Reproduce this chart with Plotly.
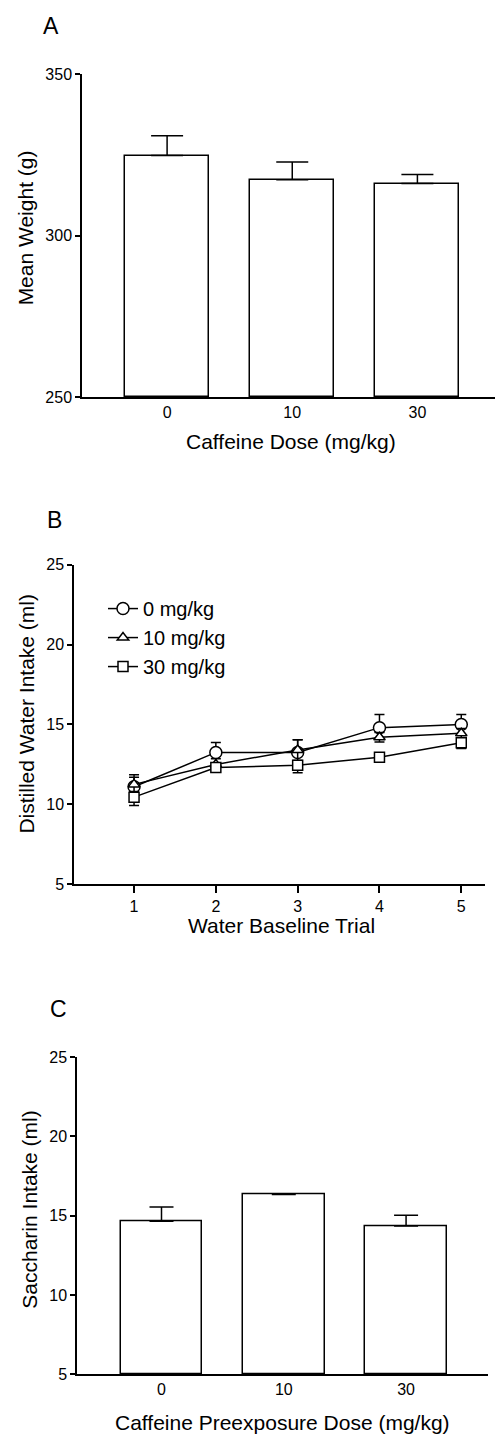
import plotly.graph_objects as go

W, H = 498, 1443
FONT = "Liberation Sans, Arial, Helvetica, sans-serif"

# ---- Panel A data ----
doses_a = ["0", "10", "30"]
weight_mean = [324.8, 317.3, 316.1]
weight_sem = [6.1, 5.5, 2.8]

# ---- Panel B data ----
trials = [1, 2, 3, 4, 5]
water_0 = [11.1, 13.25, 13.25, 14.8, 15.0]
water_0_err = [0.75, 0.62, 0.8, 0.82, 0.62]
water_10 = [11.25, 12.5, 13.4, 14.2, 14.45]
water_10_err = [0.45, 0.35, 0.65, 0.3, 0.3]
water_30 = [10.45, 12.3, 12.45, 12.95, 13.85]
water_30_err = [0.52, 0.25, 0.47, 0.25, 0.35]
series_names = ["0 mg/kg", "10 mg/kg", "30 mg/kg"]

# ---- Panel C data ----
doses_c = ["0", "10", "30"]
sacch_mean = [14.66, 16.34, 14.35]
sacch_sem = [0.9, 0.05, 0.68]


def xd(p0, p1):
    return [p0 / W, p1 / W]


def yd(top, bottom):
    return [1 - bottom / H, 1 - top / H]


def px(x):
    return x / W


def py(y):
    return 1 - y / H


fig = go.Figure()

# Panel A bars
fig.add_trace(go.Bar(
    x=doses_a, y=[m - 250 for m in weight_mean], base=250,
    xaxis="x", yaxis="y", width=0.672,
    marker=dict(color="white", line=dict(color="black", width=1.5)),
    error_y=dict(type="data", symmetric=False, array=weight_sem,
                 arrayminus=[0] * len(weight_sem), color="black",
                 thickness=1.5, width=16),
    showlegend=False,
))

# Panel B lines
symbols = ["circle", "triangle-up", "square"]
sizes = [12, 10, 10]
b_series = [water_0, water_10, water_30]
b_errs = [
    dict(array=water_0_err, arrayminus=[0] * 5),
    dict(array=water_10_err, arrayminus=water_10_err),
    dict(array=[0] * 5, arrayminus=water_30_err),
]
for name, ys, sym, sz, e in zip(series_names, b_series, symbols, sizes, b_errs):
    fig.add_trace(go.Scatter(
        x=trials, y=ys, name=name, mode="lines+markers",
        xaxis="x2", yaxis="y2",
        line=dict(color="black", width=1.5),
        marker=dict(symbol=sym, size=sz, color="white",
                    line=dict(color="black", width=1.5)),
        error_y=dict(type="data", symmetric=False, color="black",
                     thickness=1.5, width=5, **e),
    ))

# Panel C bars
fig.add_trace(go.Bar(
    x=doses_c, y=[m - 5 for m in sacch_mean], base=5,
    xaxis="x3", yaxis="y3", width=0.668,
    marker=dict(color="white", line=dict(color="black", width=1.5)),
    error_y=dict(type="data", symmetric=False, array=sacch_sem,
                 arrayminus=[0] * len(sacch_sem), color="black",
                 thickness=1.5, width=12),
    showlegend=False,
))

axis_common = dict(showgrid=False, zeroline=False, showline=True,
                   linecolor="black", linewidth=1.5,
                   tickfont=dict(family=FONT, size=16, color="black"))

fig.update_layout(
    width=W, height=H,
    margin=dict(l=0, r=0, t=0, b=0),
    paper_bgcolor="white", plot_bgcolor="white",
    font=dict(family=FONT, color="black"),
    bargap=0,
    xaxis=dict(domain=xd(82, 495), anchor="y", type="category",
               range=[-0.68, 2.62], ticks="", **axis_common),
    yaxis=dict(domain=yd(66.7, 394), anchor="x", range=[250, 350],
               tickvals=[250, 300, 350], ticks="outside", ticklen=5,
               tickwidth=1.5, tickcolor="black", **axis_common),
    xaxis2=dict(domain=xd(74, 485), anchor="y2", range=[0.266, 5.29],
                tickvals=trials, ticks="outside", ticklen=7, tickwidth=1.5,
                tickcolor="black", **axis_common),
    yaxis2=dict(domain=yd(563.3, 886.7), anchor="x2", range=[5, 25],
                tickvals=[5, 10, 15, 20, 25], ticks="outside", ticklen=5,
                tickwidth=1.5, tickcolor="black", **axis_common),
    xaxis3=dict(domain=xd(77, 488), anchor="y3", type="category",
                range=[-0.691, 2.67], ticks="", **axis_common),
    yaxis3=dict(domain=yd(1061.7, 1382.7), anchor="x3", range=[5, 25],
                tickvals=[5, 10, 15, 20, 25], ticks="outside", ticklen=5,
                tickwidth=1.5, tickcolor="black", **axis_common),
    legend=dict(x=px(103), y=py(588), xanchor="left", yanchor="top",
                bgcolor="rgba(0,0,0,0)",
                font=dict(family=FONT, size=20, color="black")),
)

ann = [
    ("A", 51, 18, 23, 0),
    ("B", 54, 518, 23, 0),
    ("C", 58, 1013, 23, 0),
    ("Caffeine Dose (mg/kg)", 291, 439, 21, 0),
    ("Mean Weight (g)", 25, 223, 21, -90),
    ("Water Baseline Trial", 281, 928, 21, 0),
    ("Distilled Water Intake (ml)", 27, 714, 21, -90),
    ("Caffeine Preexposure Dose (mg/kg)", 282, 1431, 21, 0),
    ("Saccharin Intake (ml)", 30, 1216, 21, -90),
]
for text, x, y, size, ang in ann:
    fig.add_annotation(text=text, xref="paper", yref="paper",
                       x=px(x), y=py(y), xanchor="center", yanchor="middle",
                       showarrow=False, textangle=ang,
                       font=dict(family=FONT, size=size, color="black"))

fig.write_html(
    "out.html",
    post_script="document.body.style.margin='0';"
                "document.body.style.overflow='hidden';",
)
